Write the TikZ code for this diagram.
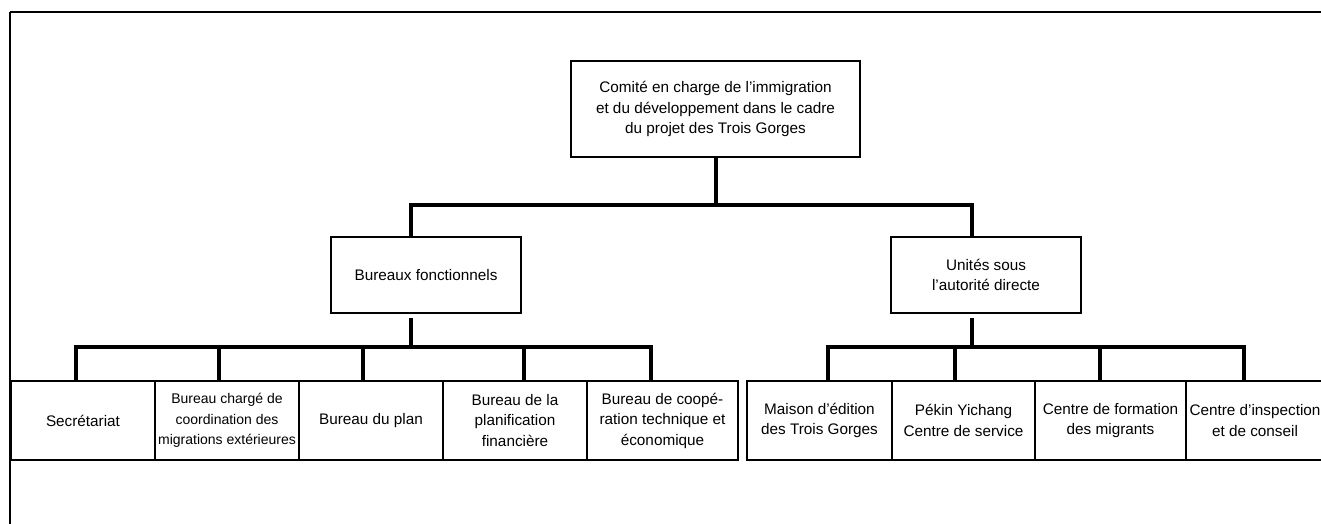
\documentclass[tikz,border=0pt]{standalone}
\usepackage{fontspec}
\setmainfont{Liberation Sans}
\begin{document}
\begin{tikzpicture}[x=1pt,y=-1pt,
  box/.style={draw,line width=1.5pt,inner sep=0pt,align=center,font=\fontsize{15.3}{20.5}\selectfont},
  lowbox/.style={box,minimum height=79pt},
  conn/.style={line width=4pt},
  bus/.style={line width=4pt,line cap=rect},
  frame/.style={line width=2pt}]
\clip (0,0) rectangle (1321,524);
% outer frame
\draw[frame] (10,12) -- (1340,12);
\draw[frame] (10,12) -- (10,540);
% boxes
\node[box,minimum width=289pt,minimum height=96pt] (top) at (715.5,109)
  {Comité en charge de l’immigration\\et du développement dans le cadre\\du projet des Trois Gorges};
\node[box,minimum width=190pt,minimum height=76pt] (bf) at (426,275) {Bureaux fonctionnels};
\node[box,minimum width=190pt,minimum height=76pt] (ua) at (986,275) {Unités sous\\l’autorité directe};
\node[lowbox,minimum width=144pt] (sec) at (83,420.5) {Secrétariat};
\node[lowbox,minimum width=144pt,font=\fontsize{14}{20.5}\selectfont] (bch) at (227,420.5)
  {Bureau chargé de\\coordination des\\migrations extérieures};
\node[lowbox,minimum width=144pt] (pln) at (371,420.5) {Bureau du plan};
\node[lowbox,minimum width=144pt] (pf) at (515,420.5) {Bureau de la\\planification\\financière};
\node[lowbox,minimum width=151pt] (coop) at (662.5,420.5) {Bureau de coopé-\\ration technique et\\économique};
\node[lowbox,minimum width=145pt] (mai) at (819.5,420.5) {Maison d’édition\\des Trois Gorges};
\node[lowbox,minimum width=143pt] (pek) at (963.5,420.5) {Pékin Yichang\\Centre de service};
\node[lowbox,minimum width=151pt] (form) at (1110.5,420.5) {Centre de formation\\des migrants};
\node[lowbox,minimum width=138pt] (insp) at (1255,420.5) {Centre d’inspection\\et de conseil};
% bus levels
\coordinate (busT) at (0,205);
\coordinate (busB) at (0,347);
% taps
\coordinate (bfN) at ([xshift=-15pt]bf.north);
\coordinate (bfS) at ([xshift=-15pt,yshift=-4pt]bf.south);
\coordinate (uaN) at ([xshift=-14pt]ua.north);
\coordinate (uaS) at ([xshift=-14pt,yshift=-4pt]ua.south);
\coordinate (secN) at ([xshift=-7pt]sec.north);
\coordinate (bchN) at ([xshift=-8pt]bch.north);
\coordinate (plnN) at ([xshift=-8pt]pln.north);
\coordinate (pfN) at ([xshift=9pt]pf.north);
\coordinate (coopN) at ([xshift=-11.5pt]coop.north);
\coordinate (maiN) at ([xshift=8.5pt]mai.north);
\coordinate (pekN) at ([xshift=-8.5pt]pek.north);
\coordinate (formN) at ([xshift=-10.5pt]form.north);
\coordinate (inspN) at ([xshift=-11pt]insp.north);
% level 1
\draw[conn] (top.south) -- (top.south |- busT);
\draw[bus] (bfN |- busT) -- (uaN |- busT);
\draw[conn] (bfN |- busT) -- (bfN);
\draw[conn] (uaN |- busT) -- (uaN);
% level 2 left
\draw[conn] (bfS) -- (bfS |- busB);
\draw[bus] (secN |- busB) -- (coopN |- busB);
\foreach \t in {secN,bchN,plnN,pfN,coopN}
  \draw[conn] (\t |- busB) -- (\t);
% level 2 right
\draw[conn] (uaS) -- (uaS |- busB);
\draw[bus] (maiN |- busB) -- (inspN |- busB);
\foreach \t in {maiN,pekN,formN,inspN}
  \draw[conn] (\t |- busB) -- (\t);
\end{tikzpicture}
\end{document}
